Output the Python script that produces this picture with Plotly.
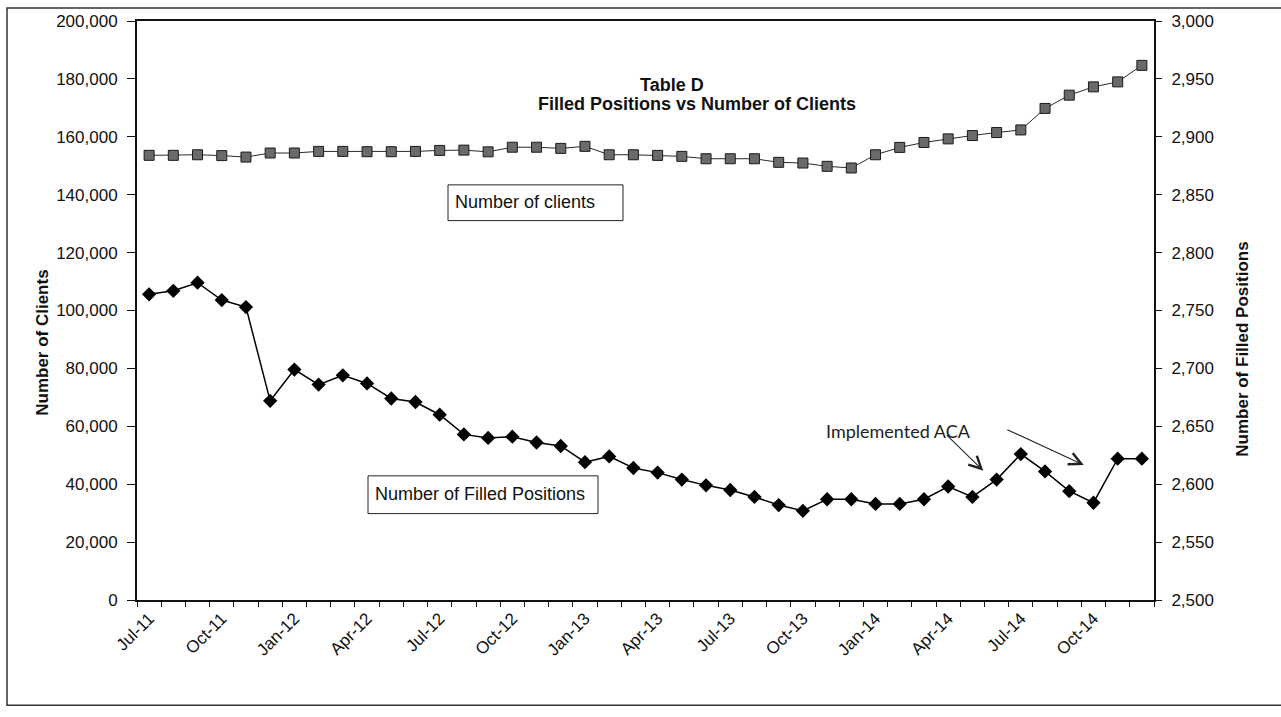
import plotly.graph_objects as go

# Monthly categories, Jul-2011 .. Dec-2014
months = [
    "Jul-11", "Aug-11", "Sep-11", "Oct-11", "Nov-11", "Dec-11",
    "Jan-12", "Feb-12", "Mar-12", "Apr-12", "May-12", "Jun-12",
    "Jul-12", "Aug-12", "Sep-12", "Oct-12", "Nov-12", "Dec-12",
    "Jan-13", "Feb-13", "Mar-13", "Apr-13", "May-13", "Jun-13",
    "Jul-13", "Aug-13", "Sep-13", "Oct-13", "Nov-13", "Dec-13",
    "Jan-14", "Feb-14", "Mar-14", "Apr-14", "May-14", "Jun-14",
    "Jul-14", "Aug-14", "Sep-14", "Oct-14", "Nov-14", "Dec-14",
]

# Number of clients (left axis)
clients = [
    153600, 153600, 153800, 153500, 153000, 154400,
    154400, 154950, 154950, 154850, 154850, 154950,
    155300, 155400, 154800, 156400, 156400, 156000,
    156700, 153800, 153790, 153580, 153240, 152420,
    152420, 152420, 151180, 150940, 149800, 149230,
    153790, 156330, 158040, 159280, 160440, 161470,
    162370, 169810, 174380, 177250, 178970, 184680,
]

# Number of filled positions (right axis)
filled_positions = [
    2764, 2767, 2774, 2759, 2753, 2672,
    2699, 2686, 2694, 2687, 2674, 2671,
    2660, 2643, 2640, 2641, 2636, 2633,
    2619, 2624, 2614, 2610, 2604, 2599,
    2595, 2589, 2582, 2577, 2587, 2587,
    2583, 2583, 2587, 2598, 2589, 2604,
    2626, 2611, 2594, 2584, 2622, 2622,
]

# Labelled categories on the x axis (every third month)
tick_labels = months[::3]

FONT = "Liberation Sans, Arial, sans-serif"
W, H = 1281, 717
PL, PR, PT, PB = 137, 1154, 17, 600  # plot area edges in pixels


def fx(px):
    return (px - PL) / (PR - PL)


def fy(py):
    return (PB - py) / (PB - PT)


idx = list(range(len(months)))

fig = go.Figure()

fig.add_trace(go.Scatter(
    x=idx, y=clients, name="Number of clients", yaxis="y",
    mode="lines+markers", text=months,
    line=dict(color="#2a2a2a", width=1),
    marker=dict(symbol="square", size=10, color="#6a6a6a",
                line=dict(color="#1a1a1a", width=1)),
))

fig.add_trace(go.Scatter(
    x=idx, y=filled_positions, name="Number of Filled Positions", yaxis="y2",
    mode="lines+markers", text=months,
    line=dict(color="#000000", width=1.5),
    marker=dict(symbol="diamond", size=11, color="#000000"),
))

fig.update_layout(
    width=W, height=H, autosize=False,
    margin=dict(l=PL, r=W - PR, t=PT, b=H - PB, pad=0),
    paper_bgcolor="white", plot_bgcolor="white",
    showlegend=False,
    font=dict(family=FONT, size=17, color="#111111"),
    xaxis=dict(
        range=[-0.5, len(months) - 0.5],
        tickmode="array",
        tickvals=idx[::3], ticktext=tick_labels,
        tickangle=-45, ticks="outside", ticklen=0,
        tickfont=dict(size=17),
        minor=dict(tick0=-0.5, dtick=1, ticks="outside", ticklen=5,
                   tickcolor="#111111", showgrid=False),
        showline=True, linewidth=2, linecolor="#111111", mirror=True,
        showgrid=False, zeroline=False,
    ),
    yaxis=dict(
        range=[0, 200000], dtick=20000, tickformat=",d",
        ticks="outside", ticklen=8, tickcolor="#111111",
        ticklabelstandoff=6,
        showline=True, linewidth=2, linecolor="#111111",
        showgrid=False, zeroline=False,
    ),
    yaxis2=dict(
        range=[2500, 3000], dtick=50, tickformat=",d",
        overlaying="y", side="right",
        ticks="outside", ticklen=6, tickcolor="#111111",
        ticklabelstandoff=6,
        showline=True, linewidth=2, linecolor="#111111",
        showgrid=False, zeroline=False,
    ),
)

shapes = [
    # outer chart frame
    dict(type="rect", xref="paper", yref="paper",
         x0=fx(7), x1=fx(1300), y0=fy(706), y1=fy(4),
         line=dict(color="#333333", width=1.5), layer="below"),
    # series label boxes
    dict(type="rect", xref="paper", yref="paper",
         x0=fx(448), x1=fx(623), y0=fy(218), y1=fy(182),
         line=dict(color="#222222", width=1), fillcolor="white"),
    dict(type="rect", xref="paper", yref="paper",
         x0=fx(368), x1=fx(598), y0=fy(513), y1=fy(475),
         line=dict(color="#222222", width=1), fillcolor="white"),
]


def label(text, px, py, size, family=FONT, angle=0, xanchor="center",
          color="#111111"):
    return dict(text=text, xref="paper", yref="paper", x=fx(px), y=fy(py),
                xanchor=xanchor, yanchor="middle", textangle=angle,
                showarrow=False, font=dict(size=size, family=family, color=color))


annotations = [
    label("<b>Table D</b>", 672, 81, 18),
    label("<b>Filled Positions vs Number of Clients</b>", 697, 101, 18),
    label("<b>Number of Clients</b>", 43, 341, 17, angle=-90),
    label("<b>Number of Filled Positions</b>", 1243, 348, 17, angle=-90),
    label("Number of clients", 453, 199, 18, xanchor="left"),
    label("Number of Filled Positions", 373, 493, 18, xanchor="left"),
    label("Implemented ACA", 824, 430, 18, family="Lato, Carlito, sans-serif",
          xanchor="left", color="#222222"),
    # arrows toward the filled-positions line
    dict(text="", x=34.45, y=2611.7, xref="x", yref="y2",
         ax=-38, ay=-37, showarrow=True, arrowhead=5, arrowsize=2.2,
         arrowwidth=1.1, arrowcolor="#222222", standoff=0),
    dict(text="", x=38.6, y=2616.6, xref="x", yref="y2",
         ax=-78, ay=-36, showarrow=True, arrowhead=5, arrowsize=2.2,
         arrowwidth=1.1, arrowcolor="#222222", standoff=0),
]

fig.update_layout(shapes=shapes, annotations=annotations)

fig.write_html("out.html")
